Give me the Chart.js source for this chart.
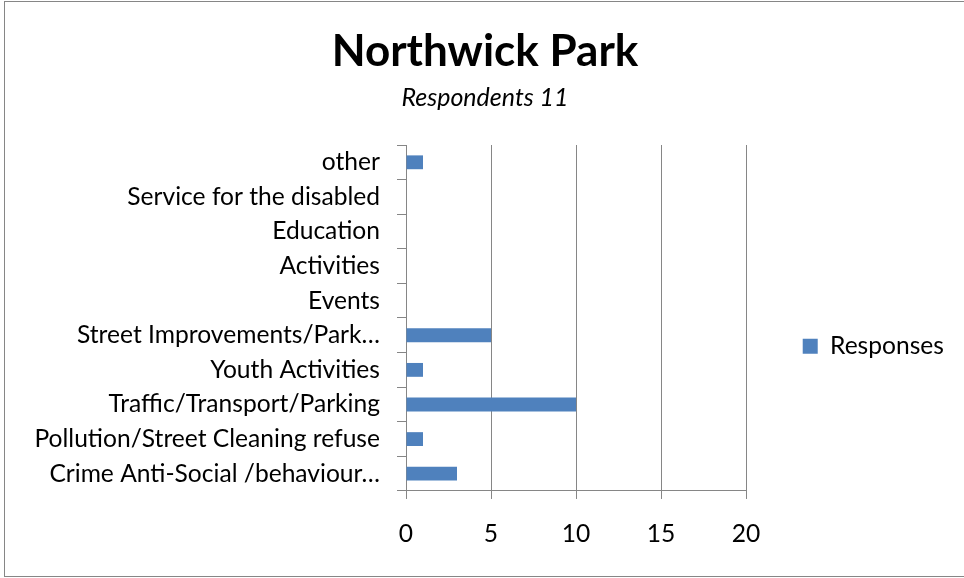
<!DOCTYPE html>
<html>
<head>
<meta charset="utf-8">
<title>Northwick Park</title>
<script src="https://cdn.jsdelivr.net/npm/chart.js@4.4.1/dist/chart.umd.min.js"></script>
<style>
  html, body { margin: 0; padding: 0; background: #fff; overflow: hidden; }
  #frame { position: absolute; left: 4px; top: 1px; width: 990px; height: 574px; border: 1px solid #868686; }
  #wrap { position: absolute; left: 0; top: 0; width: 964px; height: 578px; }
</style>
</head>
<body>
<div id="frame"></div>
<div id="wrap"><canvas id="chart" width="964" height="578"></canvas></div>
<script>
// categories listed top to bottom
const categories = [
  "other",
  "Service for the disabled",
  "Education",
  "Activities",
  "Events",
  "Street Improvements/Park\u2026",
  "Youth Activities",
  "Traffic/Transport/Parking",
  "Pollution/Street Cleaning refuse",
  "Crime Anti-Social /behaviour\u2026"
];
const responses = [1, 0, 0, 0, 0, 5, 1, 10, 1, 3];
const xTicks = [0, 5, 10, 15, 20];

const gridGrey = "#868686";
const barBlue = "#4F81BD";
const font = "Lato, 'Open Sans', sans-serif";

// move the legend box a bit left and down from where the layout puts it
const legendShift = {
  id: "legendShift",
  afterLayout(chart) {
    const lg = chart.legend;
    const dx = -10, dy = 62;
    lg.left += dx;
    lg.right += dx;
    lg.top += dy;
    lg.bottom += dy;
  }
};

new Chart(document.getElementById("chart"), {
  type: "bar",
  data: {
    labels: categories,
    datasets: [{
      label: "Responses",
      data: responses,
      backgroundColor: barBlue,
      borderWidth: 0,
      barPercentage: 0.8,
      categoryPercentage: 0.5
    }]
  },
  options: {
    indexAxis: "y",
    responsive: false,
    animation: false,
    devicePixelRatio: 1,
    layout: { padding: { left: 6, right: 0, top: 0, bottom: 9.5 } },
    scales: {
      x: {
        min: 0,
        max: 20,
        afterBuildTicks(scale) {
          scale.ticks = xTicks.map(v => ({ value: v }));
        },
        grid: { color: gridGrey, lineWidth: 1, tickLength: 8, drawTicks: true },
        border: { display: true, color: gridGrey, width: 1 },
        ticks: { color: "#000", padding: 20, font: { family: font, size: 24.6 } }
      },
      y: {
        afterFit(scale) { scale.width = 400; },
        grid: { drawOnChartArea: false, drawTicks: true, tickLength: 9, color: gridGrey, offset: true },
        border: { display: true, color: gridGrey, width: 1 },
        ticks: { color: "#000", padding: 17, font: { family: font, size: 24.6 } }
      }
    },
    plugins: {
      title: {
        display: true,
        text: "Northwick Park",
        color: "#000",
        font: { family: font, size: 44, weight: "bold" },
        padding: { top: 25, bottom: 0 }
      },
      subtitle: {
        display: true,
        text: "Respondents 11",
        color: "#000",
        font: { family: font, size: 25, style: "italic" },
        padding: { top: 5, bottom: 32.2 }
      },
      legend: {
        position: "right",
        labels: {
          color: "#000",
          boxWidth: 15,
          boxHeight: 15,
          padding: 66.7,
          font: { family: font, size: 24.6 }
        }
      },
      tooltip: { enabled: false }
    }
  },
  plugins: [legendShift]
});
</script>
</body>
</html>
